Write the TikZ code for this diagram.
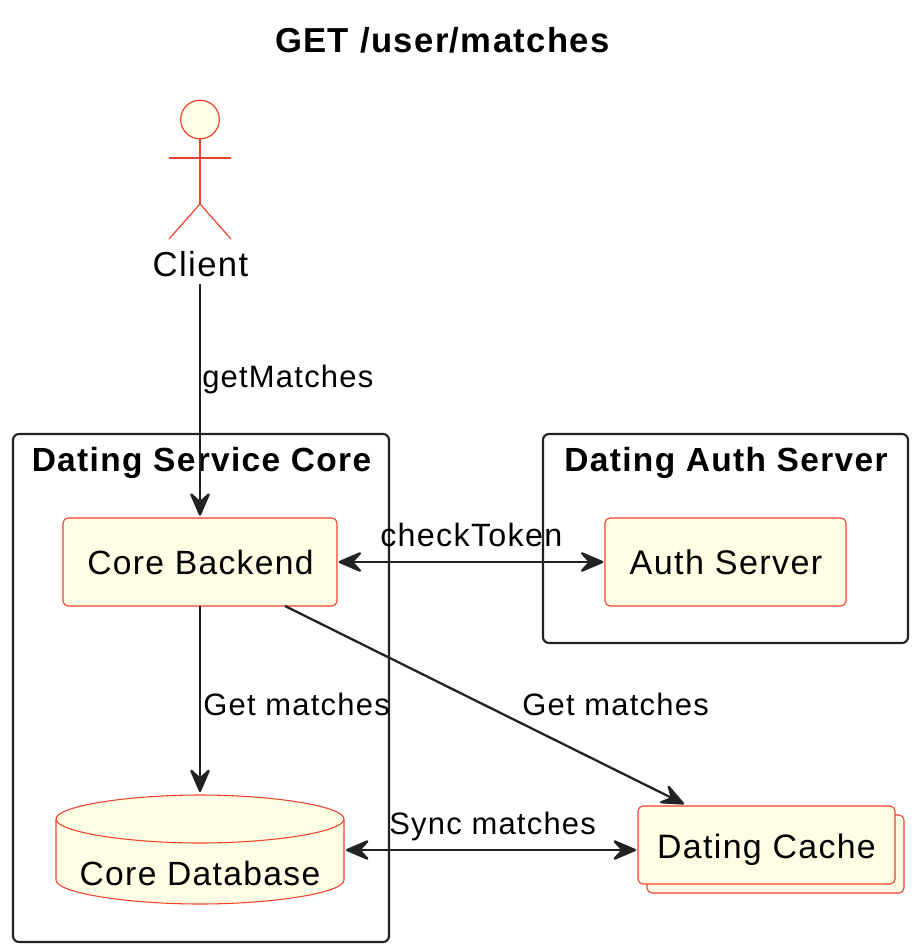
\documentclass[tikz,border=0pt]{standalone}
\usepackage{fontspec}
\setmainfont[LetterSpace=4]{Liberation Sans}
\usetikzlibrary{arrows.meta}
\definecolor{umlred}{HTML}{F2402E}
\definecolor{umlfill}{HTML}{FEFEE4}
\definecolor{umlink}{HTML}{222222}
\tikzset{
  px/.style={x=0.75pt,y=-0.75pt},
  txt/.style={font=\fontsize{25.2pt}{28pt}\selectfont,text=black,inner sep=0pt,anchor=base},
  lbl/.style={font=\fontsize{23.2pt}{28pt}\selectfont,text=black,inner sep=0pt,anchor=base west},
  frametitle/.style={font=\fontsize{25.1pt}{28pt}\selectfont\bfseries,text=black,inner sep=0pt,anchor=base},
  framebox/.style={draw=umlink,line width=1.6pt,rounded corners=4.5pt},
  compbox/.style={draw=umlred,fill=umlfill,line width=0.8pt,rounded corners=3.75pt},
  actorline/.style={draw=umlred,line width=0.9pt},
  conn/.style={draw=umlink,line width=1.7pt},
  tip/.tip={Stealth[length=20.5pt,width=17.5pt,inset=8pt,round=false,fill=umlink]},
}
\begin{document}
\begin{tikzpicture}[px]
\useasboundingbox (0,0) rectangle (920,952);
\fill[white] (0,0) rectangle (920,952);
\node[frametitle,font=\fontsize{26pt}{28pt}\selectfont\bfseries] (title) at (442.5,52.5) {GET /user/matches};
% frames
\draw[framebox] (13,434) rectangle (389,942);
\draw[framebox] (543,434) rectangle (908,643);
\node[frametitle] (coretitle) at (201.5,471) {Dating Service Core};
\node[frametitle] (authtitle) at (726,471) {Dating Auth Server};
% actor
\node[actorline,fill=umlfill,circle,minimum size=29pt,inner sep=0pt] (head) at (200,119.5) {};
\coordinate (hip) at (200,204);
\coordinate (armL) at (169,158);
\coordinate (armR) at (231,158);
\coordinate (legL) at (169,239);
\coordinate (legR) at (231,239);
\draw[actorline] (head.south) -- (hip);
\draw[actorline] (armL) -- (armR);
\draw[actorline] (legL) -- (hip) -- (legR);
\node[txt,font=\fontsize{26pt}{28pt}\selectfont] (client) at (200.5,276) {Client};
\coordinate (clientout) at (200,284);
% boxes
\path[compbox] (647,815) rectangle (904,893);
\path[compbox] (63,518) rectangle (337,606);
\path[compbox] (605,518) rectangle (846,606);
\path[compbox] (638,806) rectangle (895,884);
\node[inner sep=0pt,minimum width=205.5pt,minimum height=66pt] (backend) at (200,562) {};
\node[inner sep=0pt,minimum width=180.75pt,minimum height=66pt] (auth) at (725.5,562) {};
\node[inner sep=0pt,minimum width=192.75pt,minimum height=58.5pt] (cache) at (766.5,845) {};
\node[txt] at (200.5,574) {Core Backend};
\node[txt,font=\fontsize{25.6pt}{28pt}\selectfont] at (726,574) {Auth Server};
\node[txt,font=\fontsize{25.4pt}{28pt}\selectfont] at (766.5,858) {Dating Cache};
% database
\path[compbox,rounded corners=0pt] (56,819) .. controls (56,806) and (128,795) .. (200,795)
  .. controls (272,795) and (344,806) .. (344,819) -- (344,880)
  .. controls (344,893) and (272,904) .. (200,904)
  .. controls (128,904) and (56,893) .. (56,880) -- cycle;
\draw[actorline,line width=0.8pt] (56,819) .. controls (56,832) and (128,843) .. (200,843)
  .. controls (272,843) and (344,832) .. (344,819);
\node[inner sep=0pt,minimum width=216pt,minimum height=81.75pt] (db) at (200,849.5) {};
\node[txt] at (200,885) {Core Database};
% connectors
\draw[conn,-{tip}] (clientout) -- ([yshift=1.5pt]backend.north);
\draw[conn,{tip}-{tip}] ([xshift=1pt]backend.east) -- ([xshift=-1pt]auth.west);
\draw[conn,-{tip}] (backend.south) -- ([yshift=2pt]db.north);
\coordinate (diagA) at (285,606);
\coordinate (diagB) at (684,804);
\draw[conn,-{tip}] (diagA) -- (diagB);
\coordinate (dbport) at (346,850);
\coordinate (cacheport) at (636,850);
\draw[conn,{tip}-{tip}] (dbport) -- (cacheport);
% labels
\node[lbl] (l1) at (202,387) {getMatches};
\node[lbl] (l2) at (203,715) {Get matches};
\node[lbl] (l3) at (522,715) {Get matches};
\node[lbl,font=\fontsize{24.2pt}{28pt}\selectfont] (l4) at (380,546) {checkToken};
\node[lbl] (l5) at (389,834) {Sync matches};
\end{tikzpicture}
\end{document}
